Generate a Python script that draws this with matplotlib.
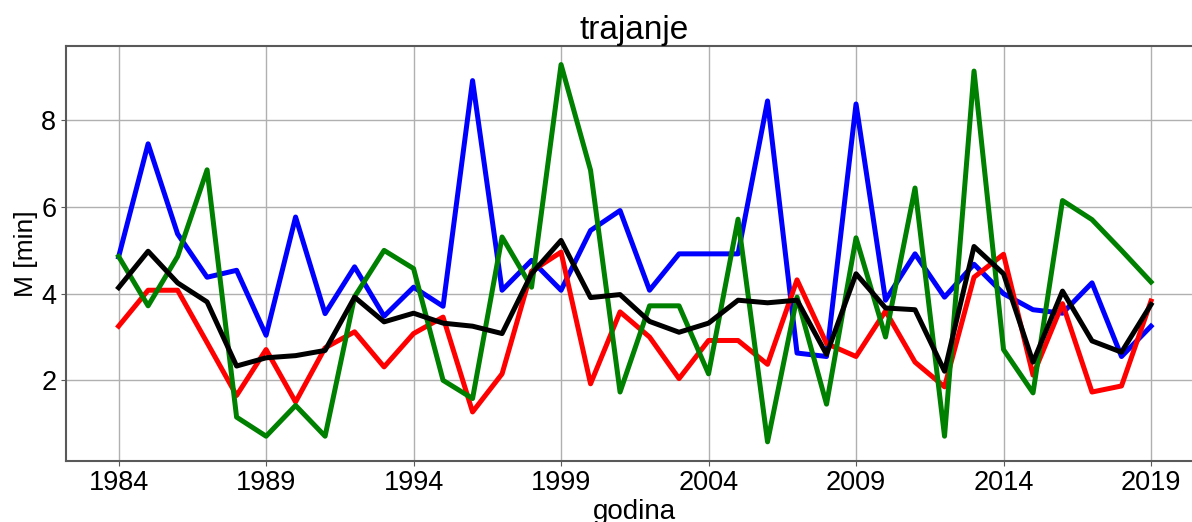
import numpy as np
import matplotlib
matplotlib.use('Agg')
import matplotlib.pyplot as plt

plt.rcParams['font.family'] = ['Liberation Sans', 'DejaVu Sans']

years = np.arange(1984, 2020)

# series
blue = [4.85, 7.46, 5.38, 4.38, 4.54, 3.04, 5.77, 3.54, 4.62, 3.48,
        4.15, 3.71, 8.92, 4.08, 4.77, 4.08, 5.46, 5.92, 4.08, 4.92,
        4.92, 4.92, 8.45, 2.63, 2.55, 8.38, 3.85, 4.92, 3.92, 4.68,
        4.00, 3.63, 3.55, 4.25, 2.55, 3.25]
red = [3.25, 4.08, 4.08, 2.87, 1.65, 2.71, 1.50, 2.75, 3.12, 2.31,
       3.08, 3.46, 1.27, 2.15, 4.52, 4.96, 1.92, 3.58, 3.00, 2.04,
       2.92, 2.92, 2.37, 4.32, 2.85, 2.55, 3.60, 2.42, 1.85, 4.38,
       4.91, 2.12, 3.77, 1.73, 1.87, 3.83]
green = [4.86, 3.72, 4.86, 6.86, 1.15, 0.71, 1.42, 0.71, 3.93, 5.00,
         4.58, 2.00, 1.58, 5.31, 4.15, 9.29, 6.85, 1.73, 3.72, 3.72,
         2.15, 5.72, 0.58, 3.92, 1.45, 5.29, 3.00, 6.44, 0.71, 9.14,
         2.71, 1.71, 6.15, 5.71, 5.00, 4.27]
black = [4.14, 4.98, 4.25, 3.81, 2.33, 2.52, 2.57, 2.69, 3.92, 3.35,
         3.55, 3.32, 3.25, 3.08, 4.46, 5.23, 3.91, 3.98, 3.36, 3.11,
         3.32, 3.85, 3.79, 3.85, 2.60, 4.46, 3.67, 3.63, 2.21, 5.09,
         4.46, 2.42, 4.06, 2.91, 2.65, 3.75]

xticks = np.arange(1984, 2020, 5)

W, H = 1192, 522
fig = plt.figure(figsize=(W / 100, H / 100), dpi=100)
# the original figure was cropped on the right: let the axes run past the edge
left, right = 66, 1260
ax = fig.add_axes([left / W, 61.3 / H, (right - left) / W, 415 / H])

lw = 3.6
ax.plot(years, blue, color='blue', lw=lw)
ax.plot(years, red, color='red', lw=lw)
ax.plot(years, green, color='green', lw=lw)
ax.plot(years, black, color='black', lw=lw)

px_per_year = (1151 - 118.6) / 35
x0 = 1984 - (118.6 - left) / px_per_year
ax.set_xlim(x0, x0 + (right - left) / px_per_year)
ax.set_xticks(xticks)
ax.set_yticks([2, 4, 6, 8])
ax.grid(True, color='#b0b0b0', lw=1)
ax.tick_params(labelsize=19.5, color='0.35')
for s in ax.spines.values():
    s.set_color('0.35')
    s.set_linewidth(1.5)

ax.set_title('trajanje', fontsize=24, pad=5, x=(634 - left) / (right - left))
ax.set_xlabel('godina', fontsize=20, labelpad=1)
ax.xaxis.set_label_coords((634 - left) / (right - left), -0.092)
ax.xaxis.label.set_va('top')
ax.set_ylabel('M [min]', fontsize=19, labelpad=2)

fig.savefig('out.png', dpi=100)
